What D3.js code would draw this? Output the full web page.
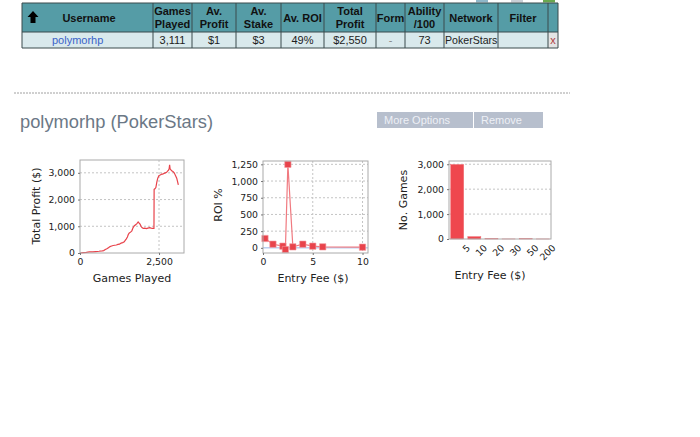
<!DOCTYPE html>
<html><head><meta charset="utf-8">
<script src="https://cdn.jsdelivr.net/npm/d3@7"></script>
<style>body{margin:0;background:#fff}svg{display:block}</style>
</head><body>
<svg id="c" width="700" height="437"></svg>
<script>
// ---------- DATA ----------
const tableHeaders = ["Username","Games\nPlayed","Av.\nProfit","Av.\nStake","Av. ROI","Total\nProfit","Form","Ability\n/100","Network","Filter",""];
const tableRow = ["polymorhp","3,111","$1","$3","49%","$2,550","-","73","PokerStars","","x"];
const playerTitle = "polymorhp (PokerStars)";
const buttons = ["More Options","Remove"];

const gamesPlayed = [0,100,200,300,400,500,600,700,750,800,850,900,950,1000,1050,1100,1150,1200,1250,1300,1350,1400,1430,1460,1500,1530,1560,1600,1640,1680,1720,1760,1800,1840,1870,1900,1930,1960,2000,2050,2100,2150,2200,2250,2300,2340,2345,2370,2400,2430,2460,2500,2540,2580,2620,2660,2700,2740,2770,2800,2820,2835,2850,2870,2900,2940,2980,3020,3060,3090,3111];
const totalProfit = [0,15,25,40,45,55,65,80,90,130,160,200,240,260,280,290,300,320,330,370,390,420,470,520,600,700,750,780,830,950,1020,1060,1100,1160,1120,1080,1000,950,920,930,910,930,950,930,920,920,2380,2400,2450,2650,2800,2900,2920,2950,2950,2980,3000,3020,3060,3100,3150,3300,3150,3120,3080,3050,3000,2900,2800,2650,2550];

const roiFee = [0.2,1,2,2.25,2.5,3,4,5,6,10];
const roiValue = [140,55,25,-25,1250,15,55,25,15,10];

const feeCategories = ["5","10","20","30","50","200"];
const gamesPerFee = [2990,95,15,3,12,2];

const profitTicks = [0,1000,2000,3000];
const gamesTicks = [0,2500];
const roiTicks = [0,250,500,750,1000,1250];
const feeTicks = [0,5,10];
const countTicks = [0,1000,2000,3000];

// ---------- PAGE ----------
const svg = d3.select("#c");
svg.append("rect").attr("width",700).attr("height",437).attr("fill","#fff");
const FONT = "'DejaVu Sans', Verdana, sans-serif";
const AFONT = "'Liberation Sans', Arial, sans-serif";
const red = "#e8434b";

// small cut-off icons at the very top
[[476,"#8fb7c9"],[511,"#c9cfd6"],[543,"#6aa84f"]].forEach(([x,c])=>{
  svg.append("rect").attr("x",x).attr("y",0).attr("width",12).attr("height",2.5).attr("fill",c);
});

// table
const colEdges = [22,153,192,236,281,324,376,405,444,498,548,558];
const hTop = 3, hBot = 32, rBot = 48;
const tbl = svg.append("g");
tbl.append("rect").attr("x",colEdges[0]).attr("y",hTop).attr("width",colEdges[11]-colEdges[0]).attr("height",hBot-hTop).attr("fill","#559ca6");
tbl.append("rect").attr("x",colEdges[0]).attr("y",hBot).attr("width",colEdges[11]-colEdges[0]).attr("height",rBot-hBot).attr("fill","#d9e9ec");
tbl.append("rect").attr("x",colEdges[10]).attr("y",hBot).attr("width",colEdges[11]-colEdges[10]).attr("height",rBot-hBot).attr("fill","#e4e4e4");
colEdges.forEach(x=>tbl.append("line").attr("x1",x).attr("x2",x).attr("y1",hTop).attr("y2",rBot).attr("stroke","#3b4a4c").attr("stroke-width",1));
[hTop,hBot,rBot].forEach(y=>tbl.append("line").attr("x1",colEdges[0]).attr("x2",colEdges[11]).attr("y1",y).attr("y2",y).attr("stroke","#3b4a4c").attr("stroke-width",1));
// arrow
tbl.append("path").attr("d","M33,11 L38.5,17 L35.5,17 L35.5,23 L30.5,23 L30.5,17 L27.5,17 Z").attr("fill","#000");
tableHeaders.forEach((h,i)=>{
  const cx = i===0 ? 89 : (colEdges[i]+colEdges[i+1])/2;
  const lines = h.split("\n");
  const t = tbl.append("text").attr("x",cx).attr("text-anchor","middle").attr("font-family",AFONT).attr("font-weight","bold").attr("font-size",11).attr("fill","#111");
  lines.forEach((l,j)=>{
    const y = lines.length===1 ? 22 : 15 + j*13;
    t.append("tspan").attr("x",cx).attr("y",y).text(l);
  });
});
tableRow.forEach((v,i)=>{
  let x, anchor="middle", fill="#222", fs=11;
  if(i===0){x=52;anchor="start";fill="#3a63c8";}
  else if(i===8){x=445;anchor="start";fs=10.6;}
  else x=(colEdges[i]+colEdges[i+1])/2;
  if(i===6) fill="#888";
  if(i===10) fill="#b04040";
  tbl.append("text").attr("x",x).attr("y",44).attr("text-anchor",anchor).attr("font-family",AFONT).attr("font-size",fs).attr("fill",fill).text(v);
});

// dashed separator
svg.append("line").attr("x1",14).attr("x2",570).attr("y1",93).attr("y2",93).attr("stroke","#a0a0a0").attr("stroke-dasharray","2,1");

// title
svg.append("text").attr("x",20).attr("y",128).attr("font-family",AFONT).attr("font-size",18.3).attr("fill","#6b7886").text(playerTitle);
// buttons
const btnX = [[377,473],[474,543]];
buttons.forEach((b,i)=>{
  svg.append("rect").attr("x",btnX[i][0]).attr("y",112).attr("width",btnX[i][1]-btnX[i][0]).attr("height",16).attr("fill","#b7bfcd");
  svg.append("text").attr("x",btnX[i][0]+7).attr("y",124).attr("font-family",AFONT).attr("font-size",11).attr("fill","#eef0f6").text(b);
});

// ---------- chart helper ----------
function frame(g, x0,x1,y0,y1){
  g.append("rect").attr("x",x0).attr("y",y0).attr("width",x1-x0).attr("height",y1-y0).attr("fill","#fff");
}
function border(g,x0,x1,y0,y1){
  g.append("rect").attr("x",x0).attr("y",y0).attr("width",x1-x0).attr("height",y1-y0).attr("fill","none").attr("stroke","#aaa").attr("stroke-width",1);
}
function hgrid(g,scale,ticks,x0,x1){
  ticks.forEach(t=>g.append("line").attr("x1",x0).attr("x2",x1).attr("y1",scale(t)).attr("y2",scale(t)).attr("stroke","#c4c4c4").attr("stroke-dasharray","2,2"));
}
function vgrid(g,scale,ticks,y0,y1){
  ticks.forEach(t=>g.append("line").attr("x1",scale(t)).attr("x2",scale(t)).attr("y1",y0).attr("y2",y1).attr("stroke","#c4c4c4").attr("stroke-dasharray","2,2"));
}
function styleAxis(a){
  a.select(".domain").remove();
  a.selectAll(".tick line").attr("stroke","#777");
  a.selectAll("text").attr("font-family",FONT).attr("font-size",9.3).attr("fill","#222");
}
function label(g,text,x,y,rot){
  const t=g.append("text").attr("text-anchor","middle").attr("font-family",FONT).attr("font-size",11).attr("fill","#222").text(text);
  if(rot) t.attr("transform",`translate(${x},${y}) rotate(-90)`); else t.attr("x",x).attr("y",y);
}

// ---------- Chart 1: Total profit ----------
{
  const g = svg.append("g");
  const X0=80,X1=184,Y0=160,Y1=253;
  const x = d3.scaleLinear().domain([0,3290]).range([X0,X1]);
  const y = d3.scaleLinear().domain([0,3480]).range([Y1,Y0]);
  frame(g,X0,X1,Y0,Y1);
  hgrid(g,y,profitTicks.slice(1),X0,X1);
  vgrid(g,x,gamesTicks.slice(1),Y0,Y1);
  g.append("path").datum(gamesPlayed.map((d,i)=>[d,totalProfit[i]]))
    .attr("d",d3.line().x(d=>x(d[0])).y(d=>y(d[1])))
    .attr("fill","none").attr("stroke",red).attr("stroke-width",1.2);
  border(g,X0,X1,Y0,Y1);
  const ax=g.append("g").attr("transform",`translate(0,${Y1})`).call(d3.axisBottom(x).tickValues(gamesTicks).tickFormat(d3.format(",")).tickSize(2).tickPadding(3));
  styleAxis(ax);
  const ay=g.append("g").attr("transform",`translate(${X0},0)`).call(d3.axisLeft(y).tickValues(profitTicks).tickFormat(d3.format(",")).tickSize(2).tickPadding(3));
  styleAxis(ay);
  label(g,"Games Played",132,282,false);
  label(g,"Total Profit ($)",40,206,true);
}

// ---------- Chart 2: ROI ----------
{
  const g = svg.append("g");
  const X0=263,X1=368,Y0=161,Y1=253;
  const x = d3.scaleLinear().domain([0,10.55]).range([X0,X1]);
  const y = d3.scaleLinear().domain([-77,1300]).range([Y1,Y0]);
  frame(g,X0,X1,Y0,Y1);
  hgrid(g,y,roiTicks.slice(1),X0,X1);
  vgrid(g,x,feeTicks.slice(1),Y0,Y1);
  g.append("line").attr("x1",X0).attr("x2",X1).attr("y1",y(0)).attr("y2",y(0)).attr("stroke","#9bb8e8").attr("stroke-width",1);
  const pts = roiFee.map((d,i)=>[d,roiValue[i]]);
  g.append("path").datum(pts).attr("d",d3.line().x(d=>x(d[0])).y(d=>y(d[1])))
    .attr("fill","none").attr("stroke","#f07a80").attr("stroke-width",1.2);
  g.selectAll("path.pt").data(pts).enter().append("path").attr("class","pt")
    .attr("transform",d=>`translate(${x(d[0])},${y(d[1])})`)
    .attr("d",d3.symbol(d3.symbolSquare,40)).attr("fill",red).attr("stroke","#f59aa0").attr("stroke-width",0.6);
  border(g,X0,X1,Y0,Y1);
  const ax=g.append("g").attr("transform",`translate(0,${Y1})`).call(d3.axisBottom(x).tickValues(feeTicks).tickSize(2).tickPadding(3));
  styleAxis(ax);
  const ay=g.append("g").attr("transform",`translate(${X0},0)`).call(d3.axisLeft(y).tickValues(roiTicks).tickFormat(d3.format(",")).tickSize(2).tickPadding(3));
  styleAxis(ay);
  label(g,"Entry Fee ($)",313,282,false);
  label(g,"ROI %",222,205,true);
}

// ---------- Chart 3: games per fee ----------
{
  const g = svg.append("g");
  const X0=449,X1=551,Y0=161,Y1=239;
  const x = d3.scaleBand().domain(feeCategories).range([X0,X1]).paddingInner(0.24).paddingOuter(0.1);
  const y = d3.scaleLinear().domain([0,3130]).range([Y1,Y0]);
  frame(g,X0,X1,Y0,Y1);
  hgrid(g,y,countTicks.slice(1),X0,X1);
  g.selectAll("rect.bar").data(feeCategories).enter().append("rect").attr("class","bar")
    .attr("x",d=>x(d)).attr("width",x.bandwidth())
    .attr("y",(d,i)=>y(gamesPerFee[i])).attr("height",(d,i)=>Y1-y(gamesPerFee[i]))
    .attr("fill","#ef474e").attr("stroke","#f07076").attr("stroke-width",0.5);
  border(g,X0,X1,Y0,Y1);
  const ax=g.append("g").attr("transform",`translate(0,${Y1})`).call(d3.axisBottom(x).tickSize(0).tickPadding(6));
  styleAxis(ax);
  ax.selectAll("text").attr("text-anchor","end").attr("dx","0.3em").attr("dy","1.1em").attr("transform","rotate(-45)");
  const ay=g.append("g").attr("transform",`translate(${X0},0)`).call(d3.axisLeft(y).tickValues(countTicks).tickFormat(d3.format(",")).tickSize(2).tickPadding(3));
  styleAxis(ay);
  label(g,"Entry Fee ($)",490,279,false);
  label(g,"No. Games",407,200,true);
}
</script>
</body></html>
